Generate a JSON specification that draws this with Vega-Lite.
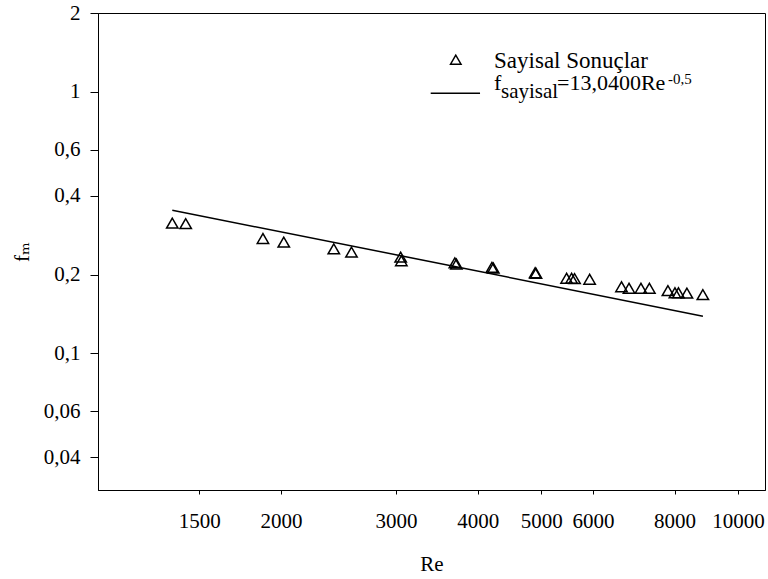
{
  "$schema": "https://vega.github.io/schema/vega-lite/v6.json",
  "width": 667,
  "height": 477,
  "autosize": {"type": "none"},
  "padding": {"left": 98, "top": 13, "right": 3, "bottom": 89},
  "background": "white",
  "config": {
    "font": "Liberation Serif, Times New Roman, DejaVu Serif, serif",
    "view": {"stroke": "black", "strokeWidth": 1},
    "axis": {
      "domainColor": "black",
      "tickColor": "black",
      "labelColor": "black",
      "titleColor": "black",
      "grid": false,
      "labelFont": "Liberation Serif, Times New Roman, DejaVu Serif, serif",
      "titleFont": "Liberation Serif, Times New Roman, DejaVu Serif, serif",
      "labelFontSize": 21,
      "titleFontSize": 21,
      "titleFontWeight": "normal"
    },
    "text": {"font": "Liberation Serif, Times New Roman, DejaVu Serif, serif", "color": "black"}
  },
  "datasets": {
    "points": [
      {"Re": 1364, "f": 0.3144},
      {"Re": 1430, "f": 0.313},
      {"Re": 1877, "f": 0.2748},
      {"Re": 2020, "f": 0.266},
      {"Re": 2409, "f": 0.2507},
      {"Re": 2564, "f": 0.2435},
      {"Re": 3049, "f": 0.233},
      {"Re": 3056, "f": 0.2259},
      {"Re": 3690, "f": 0.2215},
      {"Re": 3710, "f": 0.2195},
      {"Re": 4205, "f": 0.213},
      {"Re": 4225, "f": 0.2118},
      {"Re": 4895, "f": 0.2032},
      {"Re": 4910, "f": 0.2022},
      {"Re": 5469, "f": 0.1936},
      {"Re": 5566, "f": 0.1936},
      {"Re": 5625, "f": 0.193},
      {"Re": 5931, "f": 0.1919},
      {"Re": 6636, "f": 0.1795},
      {"Re": 6814, "f": 0.1773},
      {"Re": 7106, "f": 0.1773},
      {"Re": 7320, "f": 0.1773},
      {"Re": 7815, "f": 0.1735},
      {"Re": 8010, "f": 0.1704},
      {"Re": 8109, "f": 0.1704},
      {"Re": 8355, "f": 0.1697},
      {"Re": 8838, "f": 0.1675}
    ],
    "fit": [
      {"Re": 1364, "f": 0.352},
      {"Re": 3050, "f": 0.236},
      {"Re": 8840, "f": 0.1385}
    ],
    "one": [{"item": "legend"}]
  },
  "layer": [
    {
      "data": {"name": "fit"},
      "mark": {"type": "line", "color": "black", "strokeWidth": 1.5},
      "encoding": {
        "x": {
          "field": "Re",
          "type": "quantitative",
          "scale": {"type": "log", "domain": [1050, 11000], "nice": false},
          "axis": {
            "values": [1500, 2000, 3000, 4000, 5000, 6000, 8000, 10000],
            "labelExpr": "toString(datum.value)",
            "tickSize": 4,
            "labelPadding": 16,
            "title": "Re",
            "titleBaseline": "alphabetic",
            "titleY": 80
          }
        },
        "y": {
          "field": "f",
          "type": "quantitative",
          "scale": {"type": "log", "domain": [0.03, 2], "nice": false},
          "axis": {
            "values": [0.04, 0.06, 0.1, 0.2, 0.4, 0.6, 1, 2],
            "labelExpr": "replace(toString(datum.value), '.', ',')",
            "tickSize": 8,
            "labelPadding": 10,
            "title": "fₘ",
            "titleX": -70,
            "titleBaseline": "alphabetic"
          }
        }
      }
    },
    {
      "data": {"name": "points"},
      "mark": {"type": "point", "shape": "triangle-up", "filled": false, "stroke": "black", "strokeWidth": 1.5, "size": 130, "opacity": 1},
      "encoding": {
        "x": {"field": "Re", "type": "quantitative", "title": "Re"},
        "y": {"field": "f", "type": "quantitative", "title": "fₘ"}
      }
    },
    {
      "data": {"name": "one"},
      "mark": {"type": "point", "shape": "triangle-up", "filled": false, "stroke": "black", "strokeWidth": 1.5, "size": 110, "opacity": 1},
      "encoding": {
        "x": {"datum": 3702, "type": "quantitative"},
        "y": {"datum": 1.326, "type": "quantitative"}
      }
    },
    {
      "data": {"name": "one"},
      "mark": {"type": "text", "align": "left", "baseline": "alphabetic", "fontSize": 23, "text": "Sayisal Sonuçlar"},
      "encoding": {
        "x": {"datum": 4236, "type": "quantitative"},
        "y": {"datum": 1.2377, "type": "quantitative"}
      }
    },
    {
      "data": {"name": "one"},
      "mark": {"type": "rule", "color": "black", "strokeWidth": 1.5},
      "encoding": {
        "x": {"datum": 3389, "type": "quantitative"},
        "x2": {"datum": 4032},
        "y": {"datum": 0.986, "type": "quantitative"}
      }
    },
    {
      "data": {"name": "one"},
      "mark": {"type": "text", "align": "left", "baseline": "alphabetic", "fontSize": 22, "text": "f"},
      "encoding": {
        "x": {"datum": 4236, "type": "quantitative"},
        "y": {"datum": 1.011, "type": "quantitative"}
      }
    },
    {
      "data": {"name": "one"},
      "mark": {"type": "text", "align": "left", "baseline": "alphabetic", "fontSize": 21, "text": "sayisal"},
      "encoding": {
        "x": {"datum": 4341, "type": "quantitative"},
        "y": {"datum": 0.9503, "type": "quantitative"}
      }
    },
    {
      "data": {"name": "one"},
      "mark": {"type": "text", "align": "left", "baseline": "alphabetic", "fontSize": 22, "text": "=13,0400Re"},
      "encoding": {
        "x": {"datum": 5287, "type": "quantitative"},
        "y": {"datum": 1.011, "type": "quantitative"}
      }
    },
    {
      "data": {"name": "one"},
      "mark": {"type": "text", "align": "left", "baseline": "alphabetic", "fontSize": 15, "text": "-0,5"},
      "encoding": {
        "x": {"datum": 7815, "type": "quantitative"},
        "y": {"datum": 1.0706, "type": "quantitative"}
      }
    }
  ]
}
